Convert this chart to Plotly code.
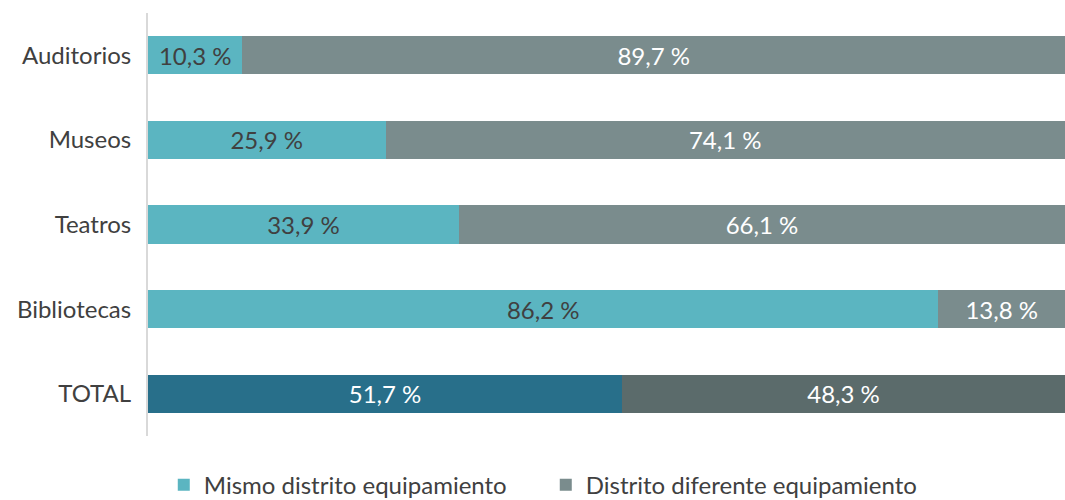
import plotly.graph_objects as go

categories = ["Auditorios", "Museos", "Teatros", "Bibliotecas", "TOTAL"]
mismo = [10.3, 25.9, 33.9, 86.2, 51.7]
diferente = [89.7, 74.1, 66.1, 13.8, 48.3]
series_names = ["Mismo distrito equipamiento", "Distrito diferente equipamiento"]

FONT = "Lato"
FS = 24

def fmt(v):
    return f"{v:.1f}".replace(".", ",") + " %"

c1 = ["#5BB5C1"] * 4 + ["#286F8A"]
c2 = ["#7A8C8D"] * 4 + ["#5B6B6B"]
t1 = ["#404040"] * 4 + ["#FFFFFF"]
t2 = ["#FFFFFF"] * 5

fig = go.Figure()
fig.add_trace(go.Bar(
    y=categories, x=mismo, orientation="h", name=series_names[0],
    marker=dict(color=c1, line=dict(width=0)),
    text=[fmt(v) for v in mismo], textposition="inside", insidetextanchor="middle",
    textangle=0, constraintext="none",
    textfont=dict(family=FONT, size=FS, color=t1), hoverinfo="x+y",
))
fig.add_trace(go.Bar(
    y=categories, x=diferente, orientation="h", name=series_names[1],
    marker=dict(color=c2, line=dict(width=0)),
    text=[fmt(v) for v in diferente], textposition="inside", insidetextanchor="middle",
    textangle=0, constraintext="none",
    textfont=dict(family=FONT, size=FS, color=t2), hoverinfo="x+y",
))

fig.update_layout(
    barmode="stack", bargap=0.55,
    width=1065, height=500,
    margin=dict(l=148, r=0, t=13, b=64, autoexpand=False),
    paper_bgcolor="white", plot_bgcolor="white",
    font=dict(family=FONT, size=FS, color="#404040"),
    xaxis=dict(range=[0, 100], visible=False, fixedrange=True),
    yaxis=dict(autorange="reversed", showgrid=False, showline=True, linecolor="#D9D9D9",
               linewidth=2, ticks="", ticklabelstandoff=10, fixedrange=True,
               tickfont=dict(family=FONT, size=FS, color="#404040")),
    legend=dict(orientation="h", x=0.0172, xanchor="left", y=-0.116, yanchor="middle",
                font=dict(family=FONT, size=FS, color="#404040"), traceorder="normal",
                itemwidth=30, entrywidthmode="pixels", entrywidth=337),
    showlegend=True,
)

post = ("document.body.style.margin='0';document.body.style.overflow='hidden';"
        "var gd=document.getElementById('{plot_id}');"
        "Plotly.relayout(gd,{width:1065,height:500});")
fig.write_html("out.html", post_script=post, config={"displayModeBar": False})
